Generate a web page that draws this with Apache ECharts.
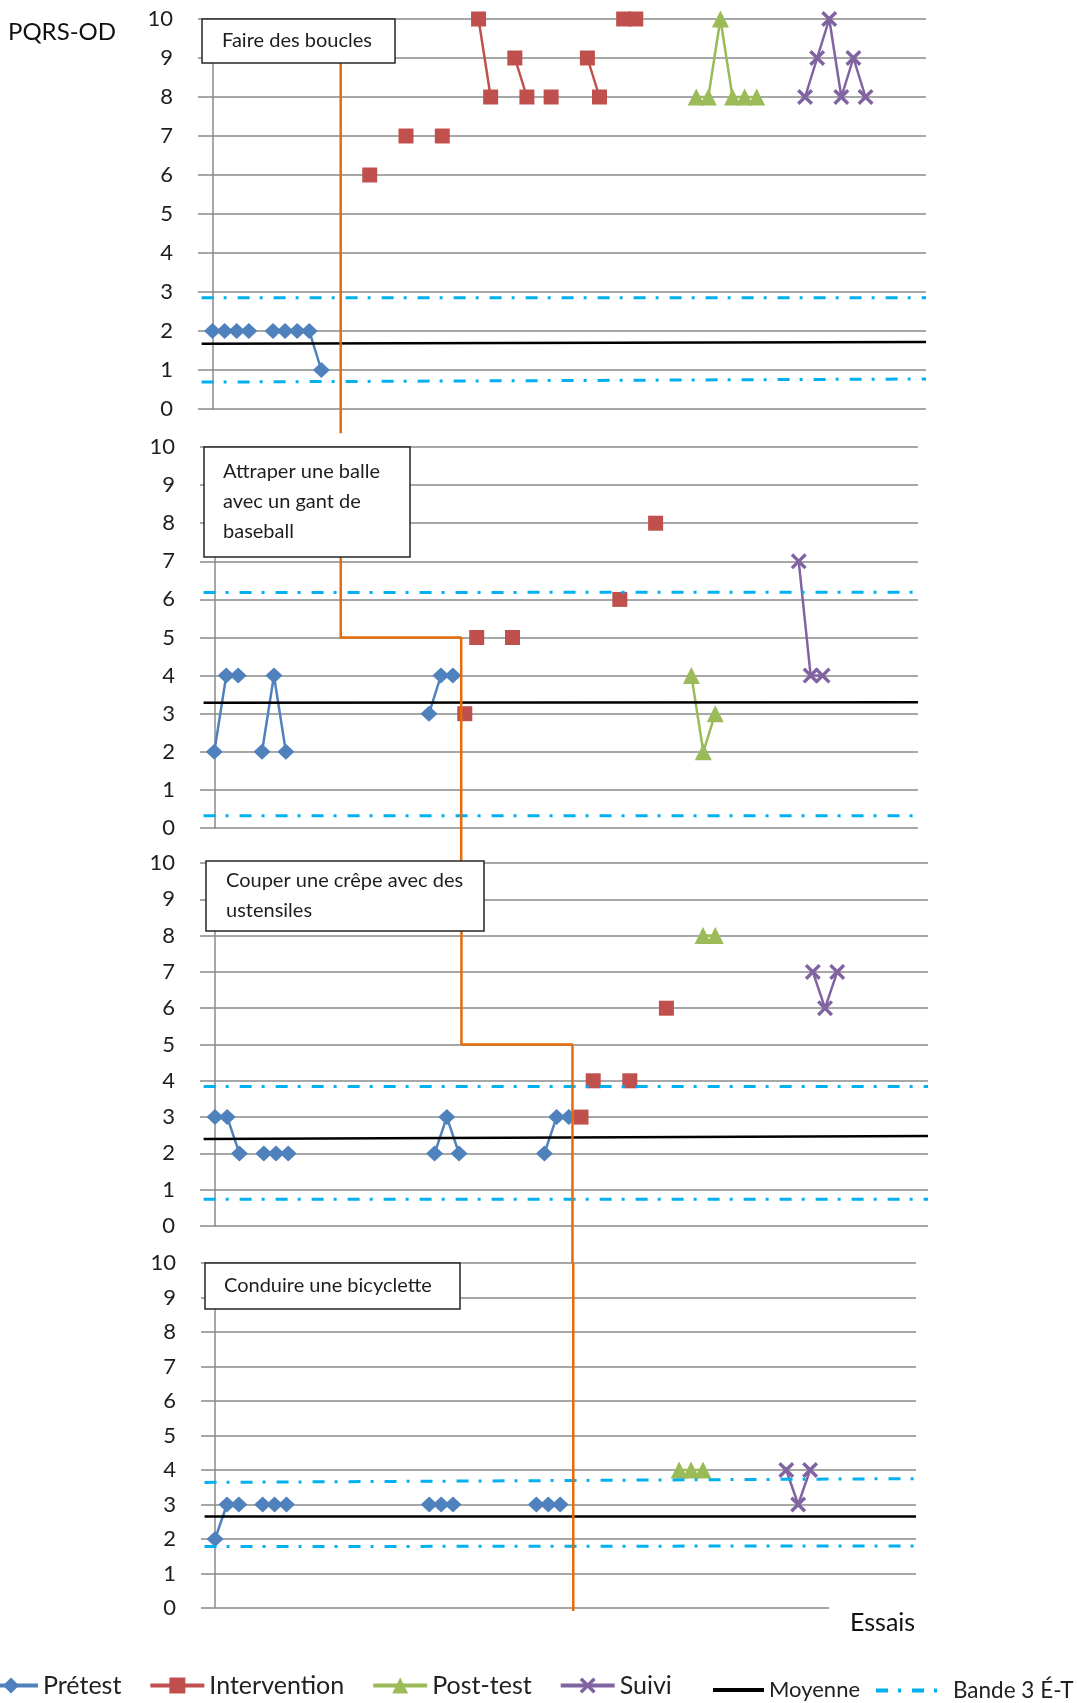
<!DOCTYPE html>
<html><head><meta charset="utf-8">
<script src="https://cdn.jsdelivr.net/npm/echarts@6/dist/echarts.min.js"></script>
<style>html,body{margin:0;padding:0;background:#fff}#c{width:1077px;height:1703px}</style>
</head><body><div id="c"></div>
<script>
// ---- DATA ----
// Each series is a list of runs: [first trial index, [scores...]] (a run is drawn as one connected line)
const panelTitles = [
  'Faire des boucles',
  'Attraper une balle\navec un gant de\nbaseball',
  'Couper une crêpe avec des\nustensiles',
  'Conduire une bicyclette'
];
const seriesNames = ['Prétest', 'Intervention', 'Post-test', 'Suivi'];

const pretest1 = [[0, [2, 2, 2, 2]], [5, [2, 2, 2, 2, 1]]];
const intervention1 = [[13, [6]], [16, [7]], [19, [7]], [22, [10, 8]], [25, [9, 8]], [28, [8]], [31, [9, 8]], [34, [10, 10]]];
const posttest1 = [[40, [8, 8, 10, 8, 8, 8]]];
const suivi1 = [[49, [8, 9, 10, 8, 9, 8]]];
const mean1 = [1.67, 1.72];
const bandHigh1 = [2.85, 2.85];
const bandLow1 = [0.69, 0.77];
const phase1 = [[10.6, 10], [10.6, -0.62]];

const pretest2 = [[0, [2, 4, 4]], [4, [2, 4, 2]], [18, [3, 4, 4]]];
const intervention2 = [[21, [3]], [22, [5]], [25, [5]], [34, [6]], [37, [8]]];
const posttest2 = [[40, [4, 2, 3]]];
const suivi2 = [[49, [7, 4, 4]]];
const mean2 = [3.29, 3.30];
const bandHigh2 = [6.18, 6.19];
const bandLow2 = [0.32, 0.32];
const phase2 = [[10.6, 10], [10.6, 5], [20.7, 5], [20.7, -0.87]];

const pretest3 = [[0, [3, 3, 2]], [4, [2, 2, 2]], [18, [2, 3, 2]], [27, [2, 3, 3]]];
const intervention3 = [[30, [3]], [31, [4]], [34, [4]], [37, [6]]];
const posttest3 = [[40, [8, 8]]];
const suivi3 = [[49, [7, 6, 7]]];
const mean3 = [2.40, 2.48];
const bandHigh3 = [3.84, 3.84];
const bandLow3 = [0.74, 0.74];
const phase3 = [[20.2, 10], [20.2, 5], [29.3, 5], [29.3, -1.02]];

const pretest4 = [[0, [2, 3, 3]], [4, [3, 3, 3]], [18, [3, 3, 3]], [27, [3, 3, 3]]];
const intervention4 = [];
const posttest4 = [[39, [4, 4, 4]]];
const suivi4 = [[48, [4, 3, 4]]];
const mean4 = [2.65, 2.65];
const bandHigh4 = [3.64, 3.75];
const bandLow4 = [1.78, 1.80];
const phase4 = [[30.1, 10], [30.1, -0.09]];

const yTickValues = [0, 1, 2, 3, 4, 5, 6, 7, 8, 9, 10];

// ---- BUILD ----
const panels = [
  {pre: pretest1, inter: intervention1, post: posttest1, suivi: suivi1, mean: mean1, hi: bandHigh1, lo: bandLow1, phase: phase1},
  {pre: pretest2, inter: intervention2, post: posttest2, suivi: suivi2, mean: mean2, hi: bandHigh2, lo: bandLow2, phase: phase2},
  {pre: pretest3, inter: intervention3, post: posttest3, suivi: suivi3, mean: mean3, hi: bandHigh3, lo: bandLow3, phase: phase3},
  {pre: pretest4, inter: intervention4, post: posttest4, suivi: suivi4, mean: mean4, hi: bandHigh4, lo: bandLow4, phase: phase4}
];
const grids = [
  {left: 198, top: 19, width: 728, height: 390},
  {left: 200, top: 447, width: 718, height: 381},
  {left: 200, top: 863, width: 728, height: 363},
  {left: 201, top: 1263, width: 715, height: 345}
];
const xRanges = [[-1.2, 59], [-1.2, 59], [-1.23, 58.44], [-1.18, 58.9]];
const boxes = [
  {left: 202, top: 19, pad: [9, 23, 9, 20], lh: 26},
  {left: 204, top: 447, pad: [10, 30, 10, 19], lh: 30},
  {left: 206, top: 861, pad: [5, 21, 5, 20], lh: 30},
  {left: 205, top: 1263, pad: [10, 28, 10, 19], lh: 26}
];

const GRID = '#8a8a8a';
const colors = {'Prétest': '#4F81BD', 'Intervention': '#C0504D', 'Post-test': '#9BBB59', 'Suivi': '#8064A2'};
const xSym = 'path://M0,1.5L1.5,0L5,3.5L8.5,0L10,1.5L6.5,5L10,8.5L8.5,10L5,6.5L1.5,10L0,8.5L3.5,5Z';
const symbols = {'Prétest': ['diamond', [17, 16]], 'Intervention': ['rect', 15], 'Post-test': ['triangle', [17, 17]], 'Suivi': [xSym, 16]};

function runsToData(runs) {
  const out = [];
  runs.forEach((r, ri) => {
    if (ri > 0) out.push([r[0] - 0.5, '-']);
    r[1].forEach((v, k) => out.push([r[0] + k, v]));
  });
  return out;
}

const series = [];
const xAxes = [], yAxes = [], titles = [];
panels.forEach((p, i) => {
  xAxes.push({
    type: 'value', gridIndex: i, min: xRanges[i][0], max: xRanges[i][1],
    axisLine: {show: false}, axisTick: {show: false}, axisLabel: {show: false}, splitLine: {show: false}
  });
  const splitColors = yTickValues.map((t, k) => (i === 3 && k === 0) ? 'rgba(0,0,0,0)' : GRID);
  yAxes.push({
    type: 'value', gridIndex: i, min: 0, max: 10, interval: 1,
    axisLine: {show: true, lineStyle: {color: GRID, width: 1.5}},
    axisTick: {show: false},
    axisLabel: {margin: 25, fontSize: 22, fontFamily: 'Lato', color: '#1e1e1e'},
    splitLine: {show: true, lineStyle: {color: splitColors, width: 1.5}}
  });
  [['Prétest', p.pre], ['Intervention', p.inter], ['Post-test', p.post], ['Suivi', p.suivi]].forEach(([name, runs]) => {
    series.push({
      type: 'line', name: name, xAxisIndex: i, yAxisIndex: i,
      data: runsToData(runs), connectNulls: false, showAllSymbol: true,
      symbol: symbols[name][0], symbolSize: symbols[name][1],
      itemStyle: {color: colors[name]},
      lineStyle: {color: colors[name], width: 2.5},
      emphasis: {disabled: true}, animation: false, z: 3
    });
  });
  const x0 = xRanges[i][0] + 0.3, x1 = xRanges[i][1];
  series.push({
    type: 'line', name: 'Moyenne', xAxisIndex: i, yAxisIndex: i, symbol: 'none',
    data: [[x0, p.mean[0]], [x1, p.mean[1]]],
    lineStyle: {color: '#000', width: 2.5}, itemStyle: {color: '#000'}, animation: false, z: 4,
    markLine: i === 3 ? {
      silent: true, symbol: 'none', label: {show: false},
      lineStyle: {color: GRID, width: 1.5, type: 'solid'},
      data: [[{coord: [xRanges[i][0], 0]}, {coord: [51.6, 0]}]]
    } : undefined
  });
  [p.hi, p.lo].forEach(b => {
    series.push({
      type: 'line', name: 'Bande 3 É-T', xAxisIndex: i, yAxisIndex: i, symbol: 'none',
      data: [[x0, b[0]], [x1, b[1]]],
      lineStyle: {color: '#00B0F0', width: 3, type: [12, 10, 3, 11]}, itemStyle: {color: '#00B0F0'},
      animation: false, z: 4
    });
  });
  series.push({
    type: 'line', name: 'phase', xAxisIndex: i, yAxisIndex: i, symbol: 'none', clip: false,
    data: p.phase, lineStyle: {color: '#E46C0A', width: 2.5}, animation: false, z: 5, silent: true
  });
  titles.push({
    text: panelTitles[i], left: boxes[i].left, top: boxes[i].top, padding: boxes[i].pad,
    backgroundColor: '#fff', borderColor: '#262626', borderWidth: 1.5,
    textStyle: {fontSize: 20, fontWeight: 'normal', fontFamily: 'Lato', color: '#1e1e1e', lineHeight: boxes[i].lh}
  });
});
titles.push({text: 'PQRS-OD', left: 8, top: 20, padding: 0, textStyle: {fontSize: 24, fontWeight: 'normal', fontFamily: 'Lato', color: '#111'}});
titles.push({text: 'Essais', left: 850, top: 1610, padding: 0, textStyle: {fontSize: 25, fontWeight: 'normal', fontFamily: 'Lato', color: '#111'}});

const legendLine = {width: 4};
const chart = echarts.init(document.getElementById('c'), null, {renderer: 'canvas'});
chart.setOption({
  backgroundColor: '#fff',
  animation: false,
  title: titles,
  grid: grids,
  xAxis: xAxes,
  yAxis: yAxes,
  legend: [
    {data: seriesNames.map(n => ({name: n, lineStyle: legendLine})), left: -18, top: 1673, padding: 0,
     itemWidth: 54, itemHeight: 20, itemGap: 27,
     lineStyle: legendLine, textStyle: {fontSize: 25, fontFamily: 'Lato', color: '#222'}, selectedMode: false},
    {data: [{name: 'Moyenne', itemStyle: {opacity: 0}, lineStyle: {width: 4}}], left: 711, top: 1679, padding: 0,
     itemWidth: 51, itemHeight: 14, lineStyle: {width: 4},
     textStyle: {fontSize: 22, fontFamily: 'Lato', color: '#222'}, selectedMode: false},
    {data: [{name: 'Bande 3 É-T', itemStyle: {opacity: 0}, lineStyle: {width: 4}}], left: 874, top: 1679, padding: 0,
     itemWidth: 72, itemHeight: 14, lineStyle: {width: 4},
     textStyle: {fontSize: 22.5, fontFamily: 'Lato', color: '#222'}, selectedMode: false}
  ],
  series: series
});
</script></body></html>
